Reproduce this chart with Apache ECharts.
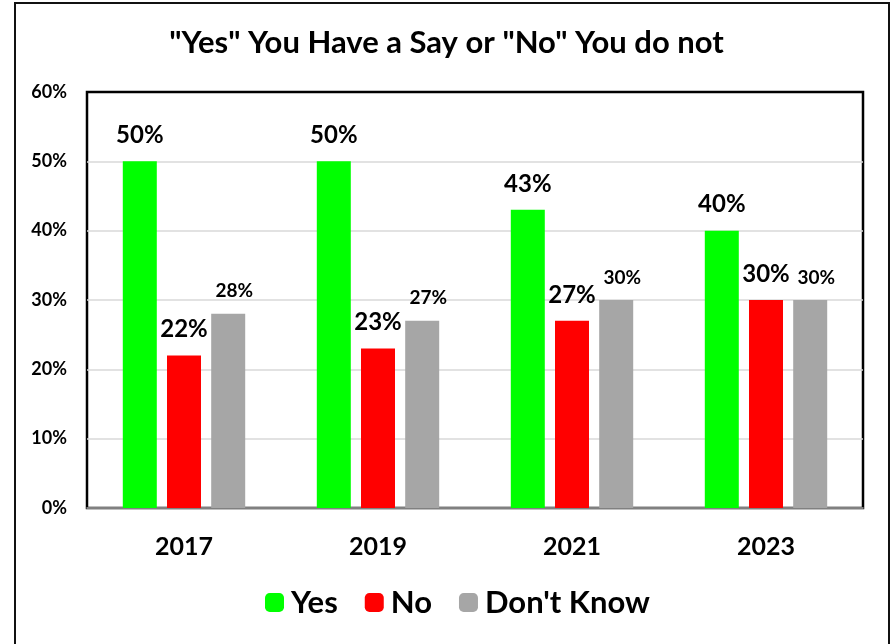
<!DOCTYPE html>
<html>
<head>
<meta charset="utf-8">
<script src="https://cdn.jsdelivr.net/npm/echarts@6/dist/echarts.min.js"></script>
<style>
  html, body { margin: 0; padding: 0; background: #fff; }
  #chart { width: 893px; height: 644px; }
</style>
</head>
<body>
<div id="chart"></div>
<script>
// data
const years = ['2017', '2019', '2021', '2023']
const yesValues = [50, 50, 43, 40]
const noValues = [22, 23, 27, 30]
const dontKnowValues = [28, 27, 30, 30]
const yTicks = [0, 10, 20, 30, 40, 50, 60]

const FONT = 'Lato'

const bigLabel = {
  show: true,
  position: 'top',
  distance: 14,
  fontFamily: FONT,
  fontWeight: 'bold',
  fontSize: 24,
  color: '#000',
  formatter: '{c}%'
}

const chart = echarts.init(document.getElementById('chart'))

const option = {
  animation: false,
  backgroundColor: '#fff',
  title: {
    text: '"Yes" You Have a Say or "No" You do not',
    left: 'center',
    top: 22,
    textStyle: { fontFamily: FONT, fontWeight: 'bold', fontSize: 31, color: '#000' }
  },
  graphic: [
    {
      type: 'rect',
      shape: { x: 15, y: 3, width: 874, height: 660 },
      style: { fill: 'none', stroke: '#111', lineWidth: 2 }
    }
  ],
  legend: {
    bottom: 21,
    left: 260,
    itemWidth: 19,
    itemHeight: 19,
    itemGap: 27,
    textStyle: { fontFamily: FONT, fontWeight: 'bold', fontSize: 31, color: '#000', padding: [0, 0, 0, 2] },
    data: ['Yes', 'No', "Don't Know"]
  },
  grid: {
    left: 87,
    right: 30,
    top: 92,
    bottom: 136,
    show: true,
    borderColor: '#000',
    borderWidth: 2.5
  },
  xAxis: {
    type: 'category',
    data: years,
    offset: 2,
    axisTick: { show: false },
    axisLine: { show: true, lineStyle: { color: '#aaa', width: 1.5 } },
    axisLabel: {
      margin: 24,
      fontFamily: FONT,
      fontWeight: 'bold',
      fontSize: 25,
      color: '#000'
    }
  },
  yAxis: {
    type: 'value',
    min: yTicks[0],
    max: yTicks[yTicks.length - 1],
    interval: 10,
    axisLine: { show: false },
    axisTick: { show: false },
    splitLine: {
      showMinLine: false,
      showMaxLine: false,
      lineStyle: { color: '#d9d9d9', width: 1.5 }
    },
    axisLabel: {
      margin: 20,
      fontFamily: FONT,
      fontWeight: 'bold',
      fontSize: 18,
      color: '#000',
      formatter: '{value}%'
    }
  },
  series: [
    {
      name: 'Yes',
      type: 'bar',
      data: yesValues,
      barWidth: 34,
      barGap: '30%',
      itemStyle: { color: '#00ff00' },
      label: bigLabel
    },
    {
      name: 'No',
      type: 'bar',
      data: noValues,
      barWidth: 34,
      barGap: '30%',
      itemStyle: { color: '#ff0000' },
      label: bigLabel
    },
    {
      name: "Don't Know",
      type: 'bar',
      data: dontKnowValues,
      barWidth: 34,
      barGap: '30%',
      itemStyle: { color: '#a6a6a6' },
      label: Object.assign({}, bigLabel, { fontSize: 19, distance: 13, offset: [6, 0] })
    }
  ]
}

chart.setOption(option)
</script>
</body>
</html>
